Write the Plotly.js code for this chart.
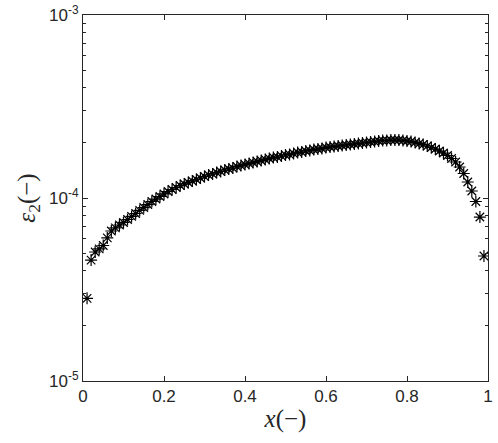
<!DOCTYPE html>
<html>
<head>
<meta charset="utf-8">
<script src="https://cdn.plot.ly/plotly-3.0.1.min.js"></script>
<style>html,body{margin:0;padding:0;background:#fff;}#chart{width:498px;height:443px;}</style>
</head>
<body>
<div id="chart"></div>
<script>
const xValues = [0.01,0.02,0.03,0.04,0.05,0.06,0.07,0.08,0.09,0.10,
  0.11,0.12,0.13,0.14,0.15,0.16,0.17,0.18,0.19,0.20,
  0.21,0.22,0.23,0.24,0.25,0.26,0.27,0.28,0.29,0.30,
  0.31,0.32,0.33,0.34,0.35,0.36,0.37,0.38,0.39,0.40,
  0.41,0.42,0.43,0.44,0.45,0.46,0.47,0.48,0.49,0.50,
  0.51,0.52,0.53,0.54,0.55,0.56,0.57,0.58,0.59,0.60,
  0.61,0.62,0.63,0.64,0.65,0.66,0.67,0.68,0.69,0.70,
  0.71,0.72,0.73,0.74,0.75,0.76,0.77,0.78,0.79,0.80,
  0.81,0.82,0.83,0.84,0.85,0.86,0.87,0.88,0.89,0.90,
  0.91,0.92,0.93,0.94,0.95,0.96,0.97,0.98,0.99];
const eps2Values = [2.83e-5,4.58e-5,5.07e-5,5.27e-5,5.50e-5,6.05e-5,6.60e-5,6.86e-5,7.12e-5,7.35e-5,
  7.63e-5,7.93e-5,8.23e-5,8.55e-5,8.87e-5,9.21e-5,9.57e-5,9.87e-5,1.019e-4,1.052e-4,
  1.085e-4,1.113e-4,1.141e-4,1.170e-4,1.193e-4,1.216e-4,1.239e-4,1.262e-4,1.286e-4,1.311e-4,
  1.336e-4,1.353e-4,1.378e-4,1.396e-4,1.422e-4,1.440e-4,1.459e-4,1.486e-4,1.505e-4,1.524e-4,
  1.544e-4,1.563e-4,1.583e-4,1.603e-4,1.623e-4,1.644e-4,1.665e-4,1.675e-4,1.696e-4,1.718e-4,
  1.729e-4,1.750e-4,1.773e-4,1.784e-4,1.806e-4,1.818e-4,1.841e-4,1.852e-4,1.864e-4,1.888e-4,
  1.900e-4,1.912e-4,1.924e-4,1.936e-4,1.948e-4,1.960e-4,1.973e-4,1.985e-4,1.998e-4,2.010e-4,
  2.023e-4,2.036e-4,2.049e-4,2.062e-4,2.062e-4,2.075e-4,2.075e-4,2.075e-4,2.062e-4,2.049e-4,
  2.036e-4,2.010e-4,1.985e-4,1.960e-4,1.924e-4,1.888e-4,1.852e-4,1.806e-4,1.762e-4,1.707e-4,
  1.644e-4,1.573e-4,1.477e-4,1.361e-4,1.223e-4,1.092e-4,9.57e-5,7.87e-5,4.82e-5];

const xTickVals = [0,0.2,0.4,0.6,0.8,1];
const xTickText = ['0','0.2','0.4','0.6','0.8','1'];
const yTickVals = [1e-5,1e-4,1e-3];
const yTickText = ['10<sup>-5</sup>','10<sup>-4</sup>','10<sup>-3</sup>'];
const yMinorVals = [2e-5,3e-5,4e-5,5e-5,6e-5,7e-5,8e-5,9e-5,2e-4,3e-4,4e-4,5e-4,6e-4,7e-4,8e-4,9e-4];

const trace = {
  x: xValues, y: eps2Values, type: 'scatter', mode: 'markers',
  marker: {symbol: 'asterisk-open', size: 10, color: '#000', line: {color: '#000', width: 1.2}},
  hoverinfo: 'skip'
};

const axisCommon = {
  showline: true, linecolor: '#262626', linewidth: 1, mirror: 'ticks',
  ticks: 'inside', tickcolor: '#262626', tickwidth: 1, ticklen: 5,
  showgrid: false, zeroline: false,
  tickfont: {family: 'Liberation Sans, Arial, sans-serif', size: 17, color: '#262626'}
};

const layout = {
  width: 498, height: 443,
  margin: {l: 83, r: 10, t: 15, b: 62},
  paper_bgcolor: '#fff', plot_bgcolor: '#fff',
  showlegend: false,
  xaxis: Object.assign({}, axisCommon, {
    range: [0, 1], tickmode: 'array', tickvals: xTickVals, ticktext: xTickText,
    title: {text: '<i>x</i>(\u2212)', standoff: 4,
      font: {family: 'Liberation Serif, DejaVu Serif, serif', size: 25, color: '#262626'}}
  }),
  yaxis: Object.assign({}, axisCommon, {
    type: 'log', range: [-5, -3], tickmode: 'array', tickvals: yTickVals, ticktext: yTickText,
    minor: {tickmode: 'array', tickvals: yMinorVals, ticks: 'inside', ticklen: 3, tickcolor: '#262626', tickwidth: 1},
    title: {text: '<i>\u03b5</i><sub>2</sub>(\u2212)', standoff: 6,
      font: {family: 'Liberation Serif, DejaVu Serif, serif', size: 25, color: '#262626'}}
  })
};

Plotly.newPlot('chart', [trace], layout, {staticPlot: true, displayModeBar: false});
</script>
</body>
</html>
